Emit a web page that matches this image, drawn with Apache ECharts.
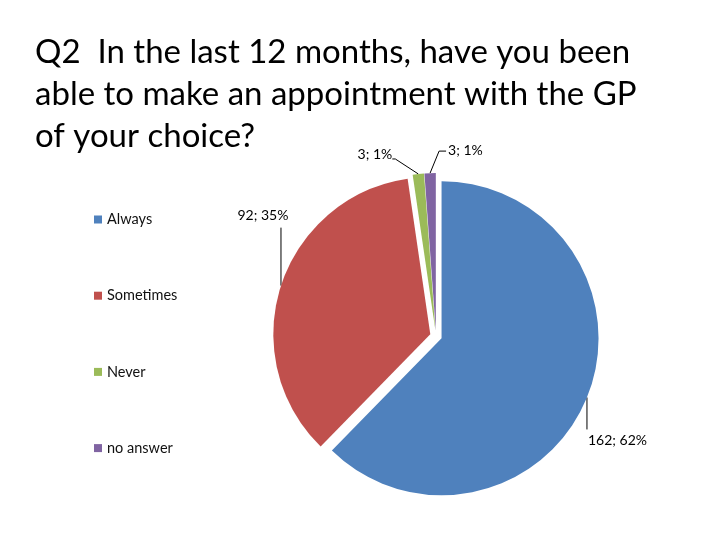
<!DOCTYPE html>
<html>
<head>
<meta charset="utf-8">
<script src="https://cdn.jsdelivr.net/npm/echarts@6/dist/echarts.min.js"></script>
<style>
  html, body { margin: 0; padding: 0; background: #fff; }
  #chart { width: 720px; height: 540px; }
</style>
</head>
<body>
<div id="chart"></div>
<script>
const categories = ['Always', 'Sometimes', 'Never', 'no answer'];
const counts = [162, 92, 3, 3];
const colors = ['#4F81BD', '#C0504D', '#9BBB59', '#8064A2'];

const total = counts.reduce((a, b) => a + b, 0);

// label spot relative to the slice's outer edge, Excel style leader lines
const labelPlace = [
  { dx: 1, dy: 43, align: 'left', line: [[0, 32]] },
  { dx: -18, dy: -70, align: 'center', line: [[0, -58]] },
  { dx: -26, dy: -19, align: 'right', line: [[-23, -15], [-26, -15]] },
  { dx: 18, dy: -23, align: 'left', line: [[9, -22], [16, -22]] }
];

const myChart = echarts.init(document.getElementById('chart'));

const option = {
  backgroundColor: '#fff',
  animation: false,
  title: {
    text: 'Q2  In the last 12 months, have you been\nable to make an appointment with the GP\nof your choice?',
    left: 30,
    top: 26,
    textStyle: {
      fontFamily: 'Lato',
      fontSize: 33,
      fontWeight: 'normal',
      lineHeight: 42,
      color: '#000'
    }
  },
  legend: {
    orient: 'vertical',
    left: 89,
    top: 207,
    itemWidth: 8,
    itemHeight: 8,
    itemGap: 61.2,
    icon: 'rect',
    selectedMode: false,
    data: categories,
    textStyle: { fontFamily: 'Lato', fontSize: 14.5, color: '#111' }
  },
  series: [
    {
      name: 'Q2',
      type: 'pie',
      center: [436, 336],
      radius: 157,
      startAngle: 90,
      clockwise: true,
      selectedMode: 'multiple',
      selectedOffset: 6,
      avoidLabelOverlap: false,
      emphasis: { disabled: true },
      label: {
        show: true,
        position: 'outside',
        fontFamily: 'Lato',
        fontSize: 14,
        color: '#000',
        formatter: p => p.value + '; ' + Math.round(p.value / total * 100) + '%'
      },
      labelLine: {
        show: true,
        lineStyle: { color: '#000', width: 1 }
      },
      labelLayout: function (params) {
        const p = labelPlace[params.dataIndex];
        const p0 = params.labelLinePoints[0];
        const r = params.labelRect;
        const tx = p0[0] + p.dx;
        const ty = p0[1] + p.dy;
        let ax = r.x;
        if (p.align === 'right') ax = r.x + r.width;
        else if (p.align === 'center') ax = r.x + r.width / 2;
        return {
          dx: tx - ax,
          dy: ty - (r.y + r.height / 2),
          labelLinePoints: [p0].concat(p.line.map(q => [p0[0] + q[0], p0[1] + q[1]]))
        };
      },
      data: categories.map((name, i) => ({
        name: name,
        value: counts[i],
        selected: true,
        itemStyle: { color: colors[i] }
      }))
    }
  ]
};

myChart.setOption(option);
</script>
</body>
</html>
